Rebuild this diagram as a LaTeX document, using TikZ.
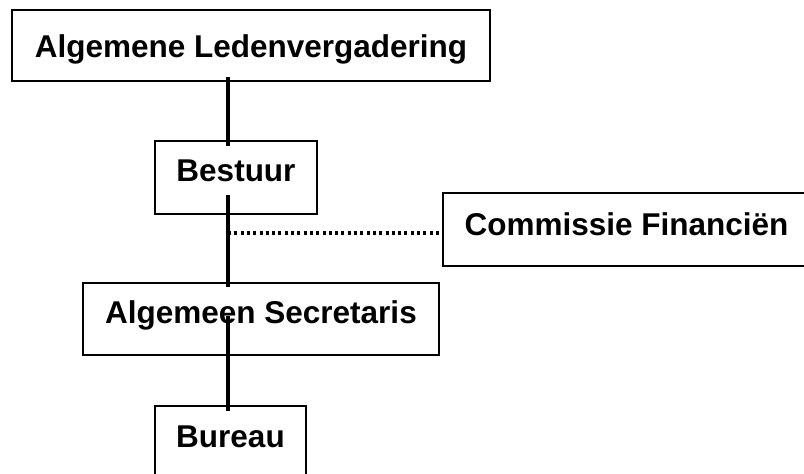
\documentclass[tikz,border=0pt]{standalone}
\usepackage{fontspec}
\setmainfont{Liberation Sans}
\usetikzlibrary{positioning,calc}

\begin{document}
\begin{tikzpicture}
        [x=1pt,y=-1pt,
        every node/.style={draw=black,rectangle,line width=1.6pt,inner sep=0pt,
          font=\fontsize{31.5}{36}\selectfont\bfseries,text height=40pt,text depth=32pt},
        link/.style={draw,line width=3.6pt},
        dotlink/.style={draw,line width=3.4pt,dash pattern=on 3pt off 3.3pt}]
        \clip (0,0) rectangle (804,474);
        \coordinate (spine) at (228,0);
        \node[minimum width=478pt,text height=47pt,text depth=24pt] (alv) at (251,45.5) {Algemene Ledenvergadering};
        \node[minimum width=162pt,text depth=33pt] (bestuur) at (236,177.5) {Bestuur};
        \node[minimum width=367pt,text height=42pt,text depth=31pt] (fin) at (626.5,229.5) {Commissie Financiën};
        \node[minimum width=356pt] (secr) at (261,319) {Algemeen Secretaris};
        \node[minimum width=151pt,text height=41pt,text depth=31pt] (bureau) at (230.5,442) {Bureau};
        % hierarchy
        \draw[link] ($(spine |- alv.south)+(0,-5)$) -- ($(spine |- bestuur.north)+(0,6)$);
        \draw[link] ($(spine |- bestuur.south)+(0,-20)$) -- ($(spine |- secr.north)+(0,5)$);
        \draw[link] ($(spine |- secr.north)+(0,34)$) -- ($(spine |- bureau.north)+(0,6)$);
        % advisory
        \draw[dotlink] ($(spine |- fin.west)+(0,3.5)$) -- ($(fin.west)+(-3,3.5)$);
\end{tikzpicture}
\end{document}
